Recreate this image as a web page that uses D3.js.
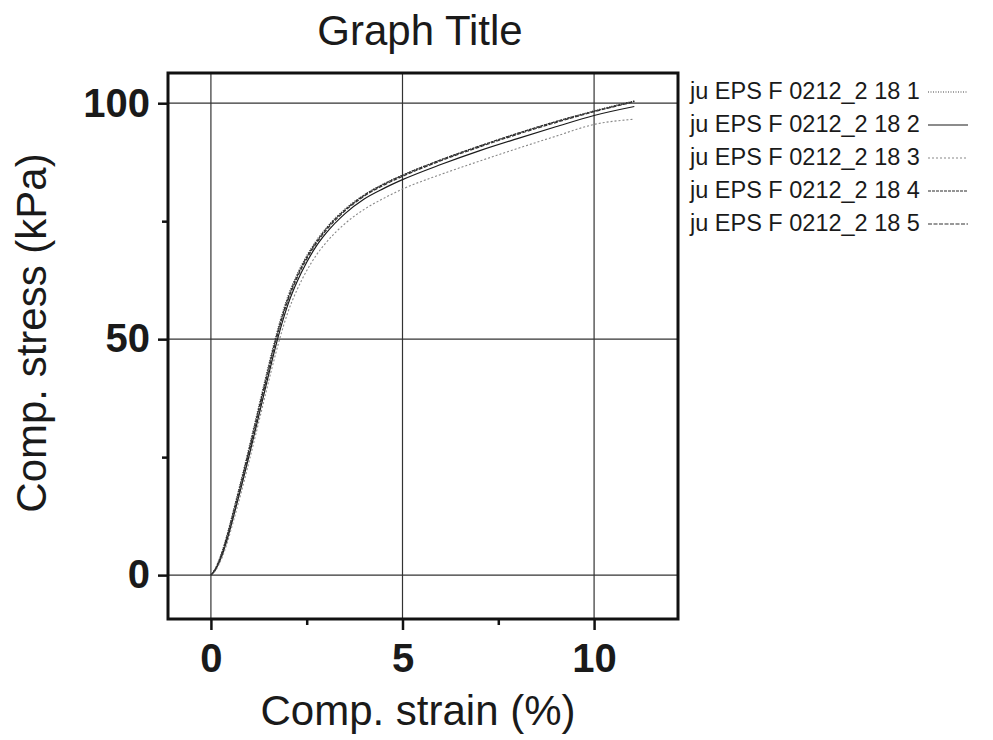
<!DOCTYPE html>
<html>
<head>
<meta charset="utf-8">
<script src="https://cdn.jsdelivr.net/npm/d3@7"></script>
<style>
  body { margin: 0; background: #fff; }
  svg text { font-family: "Liberation Sans", Arial, sans-serif; fill: #1a1a1a; }
</style>
</head>
<body>
<svg id="chart" width="993" height="740"></svg>
<script>
// strain (%) sampled along the curves
const strain = [0, 0.1, 0.2, 0.3, 0.4, 0.5, 0.6, 0.8, 1.0, 1.2, 1.4, 1.6, 1.8, 2.0, 2.25, 2.5, 2.75, 3.0, 3.5, 4.0, 4.5, 5.0, 6.0, 7.0, 8.0, 9.0, 10.0, 11.05];

// stress (kPa) for each specimen
const stress1 = [0, 1.2, 3.0, 5.3, 8.0, 11.0, 14.2, 20.6, 27.3, 34.2, 41.0, 47.7, 53.8, 58.9, 63.8, 67.7, 70.9, 73.5, 77.6, 80.6, 82.9, 84.8, 88.0, 90.9, 93.6, 96.1, 98.4, 100.5];
const stress2 = [0, 0.9, 2.4, 4.4, 6.9, 9.7, 12.7, 18.9, 25.4, 32.1, 38.9, 45.6, 51.8, 57.1, 62.2, 66.3, 69.7, 72.4, 76.6, 79.7, 81.9, 83.8, 87.0, 89.9, 92.5, 95.0, 97.4, 99.3];
const stress3 = [0, 0.8, 2.1, 3.9, 6.2, 8.9, 11.8, 17.8, 24.2, 30.8, 37.5, 44.1, 50.2, 55.5, 60.5, 64.5, 67.8, 70.4, 74.5, 77.5, 79.8, 81.8, 84.9, 87.7, 90.4, 93.0, 95.5, 96.6];
const stress4 = [0, 1.1, 2.8, 5.0, 7.7, 10.6, 13.8, 20.1, 26.8, 33.6, 40.4, 47.1, 53.2, 58.4, 63.4, 67.4, 70.6, 73.3, 77.4, 80.5, 82.8, 84.7, 88.0, 90.9, 93.6, 96.1, 98.3, 100.4];
const stress5 = [0, 1.0, 2.6, 4.7, 7.3, 10.2, 13.3, 19.6, 26.2, 33.0, 39.8, 46.6, 52.8, 58.0, 63.0, 67.0, 70.3, 73.0, 77.2, 80.3, 82.6, 84.5, 87.8, 90.7, 93.4, 95.9, 98.2, 100.3];

const seriesNames = ["ju EPS F 0212_2 18 1", "ju EPS F 0212_2 18 2", "ju EPS F 0212_2 18 3", "ju EPS F 0212_2 18 4", "ju EPS F 0212_2 18 5"];
const xTicks = [0, 5, 10];
const xMinor = [2.5, 7.5];
const yTicks = [0, 50, 100];
const yMinor = [25, 75];

const styles = [
  { stroke: "#444", width: 1.1, dash: "1,1.5" },
  { stroke: "#1a1a1a", width: 1.2, dash: null },
  { stroke: "#888", width: 1.1, dash: "2,2" },
  { stroke: "#2a2a2a", width: 1.2, dash: "3,1" },
  { stroke: "#333", width: 1.2, dash: "4,1.5" }
];

const series = [stress1, stress2, stress3, stress4, stress5].map((vals, i) => ({
  name: seriesNames[i],
  values: vals.map((v, j) => ({ x: strain[j], y: v }))
}));

const svg = d3.select("#chart");
const plotL = 168, plotR = 678, plotT = 73, plotB = 619;

const x = d3.scaleLinear().domain([-1.12, 12.19]).range([plotL, plotR]);
const y = d3.scaleLinear().domain([-9.3, 106.4]).range([plotB, plotT]);

// grid lines
svg.append("g").selectAll("line").data(xTicks).join("line")
  .attr("x1", d => x(d)).attr("x2", d => x(d))
  .attr("y1", plotT).attr("y2", plotB)
  .attr("stroke", "#333").attr("stroke-width", 1.2);
svg.append("g").selectAll("line").data(yTicks).join("line")
  .attr("y1", d => y(d)).attr("y2", d => y(d))
  .attr("x1", plotL).attr("x2", plotR)
  .attr("stroke", "#333").attr("stroke-width", 1.2);

// curves
const line = d3.line().x(d => x(d.x)).y(d => y(d.y)).curve(d3.curveMonotoneX);
svg.append("g").selectAll("path").data(series).join("path")
  .attr("fill", "none")
  .attr("stroke", (d, i) => styles[i].stroke)
  .attr("stroke-width", (d, i) => styles[i].width)
  .attr("stroke-dasharray", (d, i) => styles[i].dash)
  .attr("d", d => line(d.values));

// axes
svg.append("g").attr("transform", `translate(0,${plotB})`)
  .call(d3.axisBottom(x).tickValues(xTicks).tickSize(11).tickPadding(14).tickFormat(d3.format("d")));
svg.append("g").attr("transform", `translate(0,${plotB})`)
  .call(d3.axisBottom(x).tickValues(xMinor).tickSize(6).tickFormat(""));
svg.append("g").attr("transform", `translate(${plotL},0)`)
  .call(d3.axisLeft(y).tickValues(yTicks).tickSize(10).tickPadding(8).tickFormat(d3.format("d")));
svg.append("g").attr("transform", `translate(${plotL},0)`)
  .call(d3.axisLeft(y).tickValues(yMinor).tickSize(6).tickFormat(""));

svg.selectAll(".domain").remove();
svg.selectAll(".tick line").attr("stroke", "#111").attr("stroke-width", 2.5);
svg.selectAll(".tick text").attr("font-size", 40).attr("font-weight", "bold").attr("fill", "#1a1a1a");

// frame
svg.append("rect")
  .attr("x", plotL).attr("y", plotT)
  .attr("width", plotR - plotL).attr("height", plotB - plotT)
  .attr("fill", "none").attr("stroke", "#111").attr("stroke-width", 3);

// titles
svg.append("text").attr("x", (plotL + plotR) / 2 - 3).attr("y", 45)
  .attr("text-anchor", "middle").attr("font-size", 42).text("Graph Title");
svg.append("text").attr("x", 418).attr("y", 725)
  .attr("text-anchor", "middle").attr("font-size", 42).text("Comp. strain (%)");
svg.append("text").attr("transform", "translate(46,333) rotate(-90)")
  .attr("text-anchor", "middle").attr("font-size", 42).text("Comp. stress (kPa)");

// legend
const legend = svg.append("g").attr("transform", "translate(690,99)");
const row = legend.selectAll("g").data(series).join("g")
  .attr("transform", (d, i) => `translate(0,${i * 33})`);
row.append("text").attr("font-size", 23.5).text(d => d.name);
row.append("line")
  .attr("x1", 238).attr("x2", 278).attr("y1", -7).attr("y2", -7)
  .attr("stroke", (d, i) => styles[i].stroke)
  .attr("stroke-width", (d, i) => styles[i].width)
  .attr("stroke-dasharray", (d, i) => styles[i].dash);
</script>
</body>
</html>
